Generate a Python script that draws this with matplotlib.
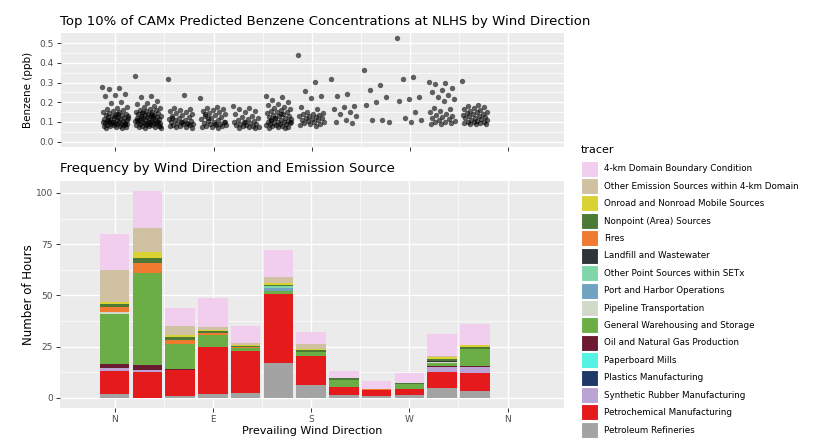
import matplotlib
matplotlib.use('Agg')
import matplotlib.pyplot as plt
from matplotlib.patches import Patch
import numpy as np

# wind direction bins (degrees)
directions = [0, 30, 60, 90, 120, 150, 180, 210, 240, 270, 300, 330]
tick_positions = [0, 90, 180, 270, 360]
tick_labels = ['N', 'E', 'S', 'W', 'N']

# top 10% benzene values (ppb) per wind direction
benzene_0 = [0.275, 0.27, 0.265, 0.24, 0.235, 0.23, 0.2, 0.195, 0.175, 0.17, 0.165, 0.16, 0.155, 0.15, 0.15,
             0.145, 0.14, 0.14, 0.135, 0.135, 0.13, 0.13, 0.125, 0.125, 0.12, 0.12, 0.115, 0.115, 0.11, 0.11,
             0.11, 0.105, 0.105, 0.1, 0.1, 0.1, 0.1, 0.095, 0.095, 0.095, 0.09, 0.09, 0.09, 0.09, 0.085, 0.085,
             0.085, 0.08, 0.08, 0.08, 0.075, 0.075, 0.07, 0.07, 0.1, 0.12, 0.14, 0.11, 0.09, 0.13]
benzene_30 = [0.335, 0.23, 0.225, 0.205, 0.195, 0.19, 0.18, 0.175, 0.17, 0.165, 0.16, 0.16, 0.155, 0.15, 0.15,
              0.145, 0.145, 0.14, 0.14, 0.135, 0.135, 0.13, 0.13, 0.13, 0.125, 0.125, 0.12, 0.12, 0.12, 0.115,
              0.115, 0.11, 0.11, 0.11, 0.105, 0.105, 0.1, 0.1, 0.1, 0.1, 0.095, 0.095, 0.095, 0.09, 0.09, 0.09,
              0.085, 0.085, 0.085, 0.08, 0.08, 0.08, 0.075, 0.075, 0.07, 0.07, 0.14, 0.12, 0.1, 0.09, 0.11,
              0.13, 0.15, 0.08, 0.1]
benzene_60 = [0.32, 0.235, 0.17, 0.165, 0.16, 0.155, 0.15, 0.145, 0.14, 0.135, 0.13, 0.125, 0.12, 0.115, 0.11,
              0.11, 0.105, 0.1, 0.1, 0.095, 0.095, 0.09, 0.09, 0.085, 0.085, 0.08, 0.08, 0.075, 0.075, 0.07,
              0.1, 0.12, 0.09]
benzene_90 = [0.22, 0.175, 0.17, 0.165, 0.16, 0.155, 0.15, 0.145, 0.14, 0.135, 0.13, 0.125, 0.12, 0.115, 0.11,
              0.105, 0.1, 0.1, 0.095, 0.09, 0.09, 0.085, 0.085, 0.08, 0.08, 0.075, 0.075, 0.07, 0.12, 0.1,
              0.09, 0.14]
benzene_120 = [0.18, 0.17, 0.165, 0.155, 0.15, 0.14, 0.13, 0.125, 0.12, 0.115, 0.11, 0.105, 0.1, 0.1, 0.095,
               0.09, 0.09, 0.085, 0.085, 0.08, 0.08, 0.075, 0.075, 0.07, 0.07, 0.1]
benzene_150 = [0.23, 0.225, 0.21, 0.2, 0.19, 0.185, 0.175, 0.17, 0.165, 0.16, 0.155, 0.15, 0.15, 0.145, 0.14,
               0.135, 0.13, 0.13, 0.125, 0.12, 0.12, 0.115, 0.11, 0.11, 0.105, 0.1, 0.1, 0.1, 0.095, 0.095,
               0.09, 0.09, 0.09, 0.085, 0.085, 0.08, 0.08, 0.075, 0.075, 0.07, 0.07, 0.12, 0.1, 0.14, 0.11]
benzene_180 = [0.44, 0.305, 0.255, 0.23, 0.22, 0.175, 0.165, 0.15, 0.145, 0.14, 0.14, 0.135, 0.13, 0.13, 0.125,
               0.12, 0.12, 0.115, 0.11, 0.11, 0.105, 0.1, 0.1, 0.095, 0.09, 0.09, 0.085, 0.08]
benzene_210 = [0.32, 0.24, 0.23, 0.18, 0.175, 0.165, 0.15, 0.14, 0.13, 0.11, 0.1, 0.095]
benzene_240 = [0.365, 0.285, 0.26, 0.225, 0.2, 0.185, 0.11, 0.11, 0.1]
benzene_270 = [0.525, 0.33, 0.32, 0.225, 0.215, 0.205, 0.15, 0.12, 0.11, 0.1]
benzene_300 = [0.305, 0.3, 0.295, 0.27, 0.26, 0.25, 0.235, 0.225, 0.215, 0.205, 0.17, 0.165, 0.155, 0.15, 0.14,
               0.135, 0.13, 0.125, 0.12, 0.115, 0.11, 0.105, 0.1, 0.1, 0.095, 0.09, 0.09]
benzene_330 = [0.31, 0.185, 0.18, 0.175, 0.17, 0.165, 0.16, 0.155, 0.15, 0.15, 0.145, 0.14, 0.14, 0.135, 0.13,
               0.13, 0.125, 0.12, 0.12, 0.115, 0.11, 0.11, 0.105, 0.1, 0.1, 0.1, 0.095, 0.095, 0.09, 0.09, 0.09]

benzene_by_dir = [benzene_0, benzene_30, benzene_60, benzene_90, benzene_120, benzene_150,
                  benzene_180, benzene_210, benzene_240, benzene_270, benzene_300, benzene_330]

# hours per tracer (stack order: bottom first)
petroleum_refineries = [2, 0, 1, 2, 2.5, 17, 6.5, 1.5, 1, 1.5, 5, 3.5]
petrochemical = [11, 12.5, 12.5, 23, 20.5, 33.5, 14, 4, 3, 3, 7.5, 8.5]
synthetic_rubber = [1.5, 1, 0, 0, 0, 0, 0, 0, 0, 0, 2.5, 3]
plastics = [0, 0, 0, 0, 0, 0, 0, 0, 0, 0, 0, 0]
paperboard = [0, 0, 0, 0, 0, 0, 0, 0, 0, 0, 0, 0]
oil_gas = [2, 2.5, 0.5, 0, 0, 0, 0, 0, 0, 0, 0.5, 0.5]
warehousing = [24.5, 45, 12.5, 5.5, 1.5, 1.5, 2, 3.5, 0, 2.5, 1.5, 8.5]
pipeline = [1, 0, 0, 0, 0, 0, 0, 0, 0, 0, 0.5, 0]
port_harbor = [0, 0, 0, 0, 0, 1.5, 0, 0, 0, 0, 0, 0]
other_point = [0, 0, 0, 0, 0, 1, 0, 0, 0, 0, 0, 0]
landfill = [0, 0, 0, 0, 0, 0, 0, 0, 0, 0, 0.5, 0]
fires = [2.5, 5, 2, 1, 0.5, 0, 0, 0, 0.5, 0, 0, 0]
nonpoint = [1.5, 2.5, 1, 1, 0.5, 0.5, 1, 0.5, 0, 0.5, 1, 1]
onroad = [1, 2.5, 1, 0.5, 0.5, 1, 0.5, 0, 0, 0, 1, 1]
other_emission = [15.5, 12, 4.5, 1.5, 1, 3, 2.5, 0, 0, 0, 0.5, 0]
boundary = [17.5, 18, 9, 14.5, 8, 13, 5.5, 3.5, 4, 4.5, 10.5, 10]

tracer_names = ['Petroleum Refineries', 'Petrochemical Manufacturing', 'Synthetic Rubber Manufacturing',
                'Plastics Manufacturing', 'Paperboard Mills', 'Oil and Natural Gas Production',
                'General Warehousing and Storage', 'Pipeline Transportation', 'Port and Harbor Operations',
                'Other Point Sources within SETx', 'Landfill and Wastewater', 'Fires',
                'Nonpoint (Area) Sources', 'Onroad and Nonroad Mobile Sources',
                'Other Emission Sources within 4-km Domain', '4-km Domain Boundary Condition']
tracer_values = [petroleum_refineries, petrochemical, synthetic_rubber, plastics, paperboard, oil_gas,
                 warehousing, pipeline, port_harbor, other_point, landfill, fires, nonpoint, onroad,
                 other_emission, boundary]
tracer_colors = ['#A3A3A3', '#E41A1C', '#BBA3D6', '#1F3868', '#55F2E6', '#6A1B31',
                 '#6AAE45', '#D2D9CB', '#6FA3BF', '#7FD6A9', '#2F3539', '#EE7B2F',
                 '#4B7A36', '#D8D232', '#CFC1A2', '#F1CDEE']

PANEL_BG = '#EBEBEB'
TEXT_COLOR = '#4D4D4D'


def style_panel(ax):
    ax.set_facecolor(PANEL_BG)
    for s in ax.spines.values():
        s.set_visible(False)
    ax.set_axisbelow(True)
    ax.grid(which='major', color='white', linewidth=1.0)
    ax.grid(which='minor', color='white', linewidth=0.5)
    ax.tick_params(which='major', length=3, width=0.7, color='#333333', labelcolor=TEXT_COLOR,
                   labelsize=6.5, pad=2)
    ax.tick_params(which='minor', length=0)
    ax.set_xticks(tick_positions)
    ax.set_xticks([45, 135, 225, 315], minor=True)
    ax.set_xlim(-50, 412)


def jitter(n, width=12):
    # spread points sideways like geom_jitter, deterministic
    return ((np.arange(n) * 0.618034) % 1 - 0.5) * 2 * width


fig = plt.figure(figsize=(8.13, 4.40), dpi=100)

# top panel: scatter of benzene
ax1 = fig.add_axes([61 / 813, 1 - 146.7 / 440, 503.3 / 813, 113.4 / 440])
style_panel(ax1)
for d, vals in zip(directions, benzene_by_dir):
    xs = d + jitter(len(vals))
    ax1.scatter(xs, vals, s=15, color='black', alpha=0.6, linewidths=0)
ax1.set_ylim(-0.026, 0.55)
ax1.set_yticks([0.0, 0.1, 0.2, 0.3, 0.4, 0.5])
ax1.set_yticks([0.05, 0.15, 0.25, 0.35, 0.45], minor=True)
ax1.set_xticklabels([])
ax1.set_ylabel('Benzene (ppb)', fontsize=7.5, color='black', labelpad=5)
fig.text(60 / 813, 1 - 25 / 440, 'Top 10% of CAMx Predicted Benzene Concentrations at NLHS by Wind Direction',
         fontsize=9.5, va='baseline', ha='left')

# bottom panel: stacked bars
ax2 = fig.add_axes([60 / 813, 1 - 408.3 / 440, 504.3 / 813, 227.6 / 440])
style_panel(ax2)
bottom = np.zeros(len(directions))
for name, vals, color in zip(tracer_names, tracer_values, tracer_colors):
    ax2.bar(directions, vals, width=27, bottom=bottom, color=color, linewidth=0, label=name)
    bottom += np.array(vals)
ax2.set_ylim(-5.05, 106)
ax2.set_yticks([0, 25, 50, 75, 100])
ax2.set_yticks([12.5, 37.5, 62.5, 87.5], minor=True)
ax2.set_xticklabels(tick_labels)
ax2.set_xlabel('Prevailing Wind Direction', fontsize=8, labelpad=1)
ax2.set_ylabel('Number of Hours', fontsize=8.5, labelpad=0.5)
fig.text(60 / 813, 1 - 172 / 440, 'Frequency by Wind Direction and Emission Source',
         fontsize=9.5, va='baseline', ha='left')

# legend, top entry = top of the stack
handles = [Patch(facecolor=c, edgecolor='white', linewidth=0.8) for c in tracer_colors[::-1]]
leg = fig.legend(handles, tracer_names[::-1], loc='upper left', bbox_to_anchor=(581 / 813, 1 - 145 / 440),
                 frameon=False, fontsize=6.3, title='tracer', title_fontsize=8, handlelength=1.95,
                 handleheight=2.44, labelspacing=0.16, handletextpad=0.7, borderaxespad=0, borderpad=0,
                 alignment='left')
leg._legend_box.sep = 4

fig.savefig('out.png', dpi=100)
